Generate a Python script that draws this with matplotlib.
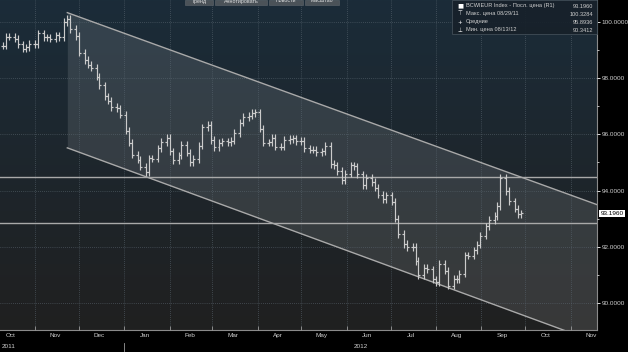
"""Bloomberg-style bar chart of BCWIEUR Index with a falling price channel."""

import matplotlib
matplotlib.use("Agg")
import matplotlib.pyplot as plt
import matplotlib.dates as mdates
import matplotlib.ticker as mticker
from matplotlib.collections import LineCollection
from matplotlib.patches import Rectangle
import numpy as np
import pandas as pd

plt.rcParams["font.family"] = ["Liberation Sans", "DejaVu Sans"]

# closes, one every 2 business days starting 2011-10-10
START = "2011-10-10"
CLOSE = [
    99.15, 99.48, 99.48, 99.40, 99.20, 99.05, 99.10, 99.23, 99.20, 99.60,
    99.45, 99.45, 99.40, 99.52, 99.45, 100.00, 100.10, 99.75, 99.50, 98.90,
    98.64, 98.48, 98.37, 98.05, 97.75, 97.35, 97.20, 96.97, 96.93, 96.70,
    96.13, 95.70, 95.28, 95.10, 94.85, 94.65, 95.15, 95.13, 95.50, 95.73,
    95.87, 95.40, 95.08, 95.25, 95.63, 95.35, 95.00, 95.12, 95.60, 96.25,
    96.33, 95.80, 95.55, 95.70, 95.75, 95.73, 95.78, 96.05, 96.42, 96.62,
    96.66, 96.76, 96.78, 96.20, 95.70, 95.72, 95.87, 95.56, 95.56, 95.80,
    95.84, 95.86, 95.75, 95.76, 95.50, 95.46, 95.46, 95.37, 95.40, 95.60,
    94.95, 94.90, 94.70, 94.37, 94.60, 94.90, 94.86, 94.58, 94.20, 94.45,
    94.30, 94.10, 93.85, 93.70, 93.83, 93.60, 93.00, 92.45, 92.10, 91.98,
    92.00, 91.50, 91.00, 91.25, 91.20, 90.84, 90.75, 91.40, 91.15, 90.62,
    90.85, 90.85, 91.05, 91.70, 91.68, 91.88, 92.08, 92.40, 92.73, 92.95,
    93.10, 93.45, 94.45, 93.98, 93.62, 93.36, 93.15, 93.196,
]

# channel drawn on the chart
CHANNEL_DATES = ["2011-11-23", "2012-11-19"]
CHANNEL_UPPER = [100.33, 93.50]
CHANNEL_LOWER = [95.52, 88.60]
LEVELS = [94.49, 92.85]

X_RANGE = ["2011-10-08", "2012-11-19"]
Y_RANGE = [89.04, 100.78]
Y_TICKS = [90, 92, 94, 96, 98, 100]

LEGEND_ROWS = [
    ("■", "BCWIEUR Index - Посл. цена (R1)", "93.1960"),
    ("⊤", "Макс. цена 08/29/11", "100.3284"),
    ("+", "Средние", "95.8936"),
    ("⊥", "Мин. цена 08/13/12", "90.3412"),
]
TOOL_BUTTONS = ["Тренд", "Аннотировать", "Новости", "Масштаб"]

LAST = 93.196
TXT = "#cfcfcf"
BAR = "#cbcbcb"
LINE = "#a9a9a9"

W, H = 628, 352
fig = plt.figure(figsize=(W / 100, H / 100), dpi=100, facecolor="black")
ax = fig.add_axes([0, 1 - 330 / H, 597 / W, 330 / H])
ax.set_facecolor("#1e2328")

x0, x1 = mdates.date2num(pd.to_datetime(X_RANGE))
ax.set_xlim(x0, x1)
ax.set_ylim(*Y_RANGE)

# background gradient (navy-slate at top, dark grey at bottom)
top = np.array([0x1b, 0x2c, 0x39]) / 255
bot = np.array([0x20, 0x20, 0x20]) / 255
t = np.linspace(0, 1, 256)[:, None]
grad = (top * (1 - t) + bot * t)[:, None, :]
ax.imshow(grad, extent=[0, 1, 0, 1], transform=ax.transAxes, aspect="auto",
          zorder=0, origin="upper")

# channel
cx = mdates.date2num(pd.to_datetime(CHANNEL_DATES))
ax.fill_between(cx, CHANNEL_LOWER, CHANNEL_UPPER, color="white", alpha=0.11,
                linewidth=0, zorder=1)
ax.plot(cx, CHANNEL_UPPER, color=LINE, lw=1.0, zorder=3)
ax.plot(cx, CHANNEL_LOWER, color=LINE, lw=1.0, zorder=3)
for lv in LEVELS:
    ax.axhline(lv, color=LINE, lw=1.0, zorder=3)

# price bars: open tick on the left, close tick on the right
dates = pd.bdate_range(START, periods=len(CLOSE), freq="2B")
xs = mdates.date2num(dates)
close = np.array(CLOSE)
opens = np.concatenate([[close[0]], close[:-1]])
pad = 0.13
tick = 1.35
segs = []
for x, o, c in zip(xs, opens, close):
    segs.append([(x, min(o, c) - pad), (x, max(o, c) + pad)])
    segs.append([(x - tick, o), (x, o)])
    segs.append([(x, c), (x + tick, c)])
ax.add_collection(LineCollection(segs, colors=BAR, linewidths=0.85, zorder=4))

# axes styling
for side in ("top", "left"):
    ax.spines[side].set_visible(False)
for side in ("right", "bottom"):
    ax.spines[side].set_color("#8a8a8a")
    ax.spines[side].set_linewidth(0.8)

ax.yaxis.tick_right()
ax.set_yticks(Y_TICKS)
ax.yaxis.set_minor_locator(mticker.MultipleLocator(1))
ax.yaxis.set_major_formatter(mticker.FormatStrFormatter("%.4f"))
ax.tick_params(axis="y", which="major", colors="white", labelcolor=TXT,
               labelsize=4.6, length=2.5, width=0.6, pad=1)
ax.tick_params(axis="y", which="minor", colors="white", length=1.5, width=0.5)

ax.xaxis.set_major_locator(mdates.MonthLocator())
ax.xaxis.set_major_formatter(mticker.NullFormatter())
ax.xaxis.set_minor_locator(mdates.MonthLocator(bymonthday=15))
ax.xaxis.set_minor_formatter(mdates.DateFormatter("%b"))
ax.tick_params(axis="x", which="major", direction="in", colors="#9a9a9a",
               length=3, width=0.6)
ax.tick_params(axis="x", which="minor", length=0, labelsize=4.6,
               labelcolor=TXT, pad=2.5)

ax.grid(which="major", color="#5d6a74", lw=0.5, ls=(0, (1, 2)), zorder=2)
ax.set_axisbelow(False)

# year row
xt = ax.get_xaxis_transform()
jan = mdates.date2num(pd.Timestamp("2012-01-01"))
ax.text(x0 + 1, -0.043, "2011", transform=xt, ha="left", va="top",
        fontsize=4.6, color=TXT, clip_on=False)
ax.text((jan + x1) / 2, -0.043, "2012", transform=xt, ha="center", va="top",
        fontsize=4.6, color=TXT, clip_on=False)
ax.plot([jan, jan], [-0.04, -0.065], transform=xt, color="#9a9a9a", lw=0.6,
        clip_on=False)

# last price tag
ax.text(1.006, LAST, f"{LAST:.4f}", transform=ax.get_yaxis_transform(),
        ha="left", va="center", fontsize=4.6, color="black", clip_on=False,
        bbox=dict(boxstyle="square,pad=0.18", fc="white", ec="none"))

# legend panel
lx, ly, lw_, lh = 452 / W, 1 - 34 / H, 145 / W, 34 / H
fig.patches.append(Rectangle((lx, ly), lw_, lh, transform=fig.transFigure,
                             fc="#17212a", ec="#44505a", lw=0.6, alpha=0.92,
                             zorder=5))
for k, (mark, label, val) in enumerate(LEGEND_ROWS):
    yy = 1 - (6 + 8 * k) / H
    fig.text(460 / W, yy, mark, fontsize=4 if k else 4.6, color="white",
             ha="center", va="center", zorder=6,
             family=["DejaVu Sans"])
    fig.text(466 / W, yy, label, fontsize=4.1, color=TXT, ha="left",
             va="center", zorder=6)
    fig.text(593 / W, yy, val, fontsize=4.1, color=TXT, ha="right",
             va="center", zorder=6)

# toolbar buttons at the top, cut by the frame
bx = [185, 215, 269, 305]
bw = [28, 52, 34, 34]
for x, w, name in zip(bx, bw, TOOL_BUTTONS):
    fig.patches.append(Rectangle((x / W, 1 - 5 / H), w / W, 5 / H,
                                 transform=fig.transFigure, fc="#4b5258",
                                 ec="#5f676d", lw=0.4, zorder=5))
    fig.text((x + w / 2) / W, 1 - 1 / H, name, fontsize=3.8, color="#e0e0e0",
             ha="center", va="center", zorder=6)

fig.savefig("out.png", dpi=100, facecolor="black")
